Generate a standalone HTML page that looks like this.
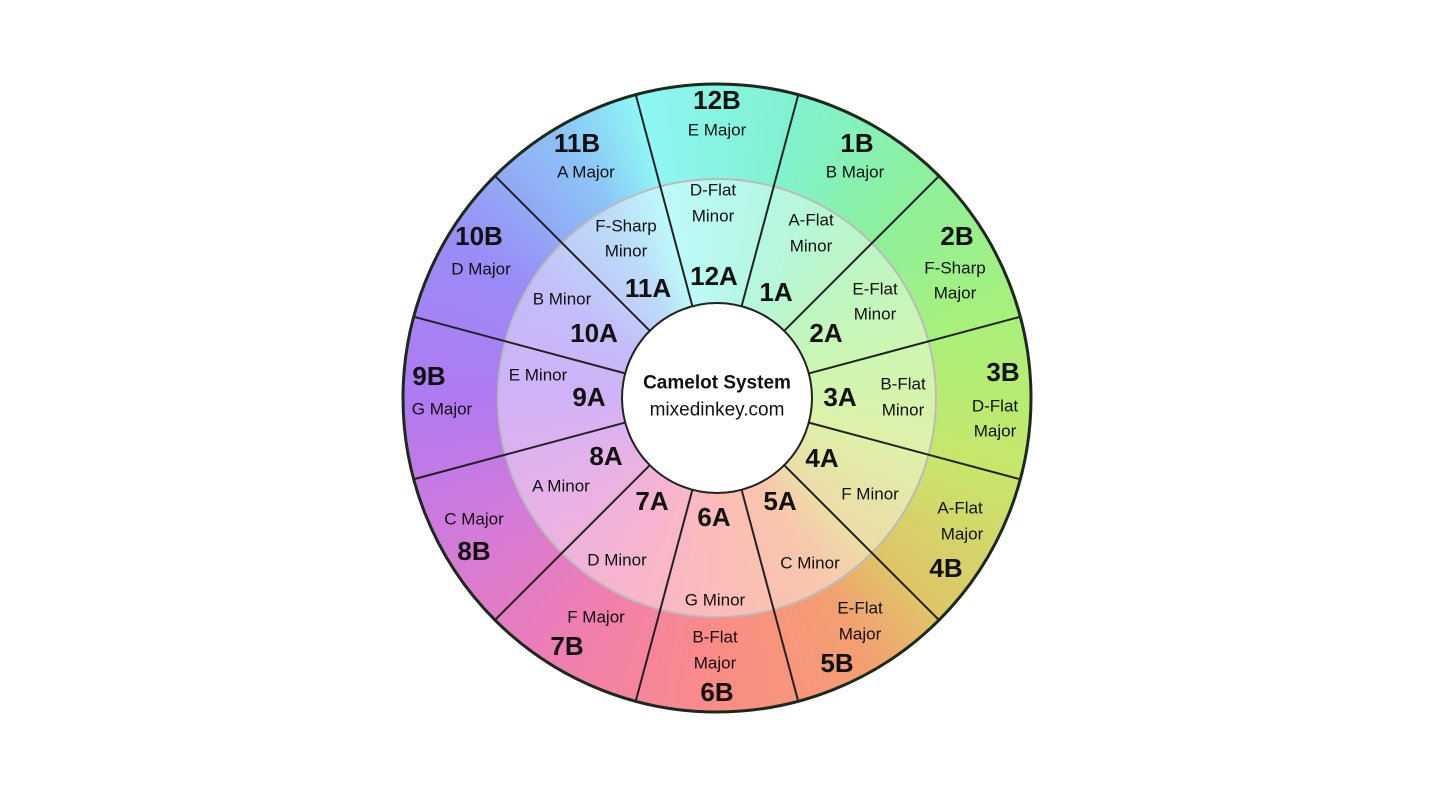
<!DOCTYPE html>
<html><head><meta charset="utf-8"><style>
html,body{margin:0;padding:0;background:#fff;width:1440px;height:810px;overflow:hidden}
#wheel{position:absolute;left:403px;top:84px;width:628px;height:628px;border-radius:50%;
background:conic-gradient(from -15deg,#8ef6f4 0deg,#80f2cf 30deg,#8df09a 60deg,#a9f07a 90deg,#c8e66a 120deg,#e0c468 150deg,#f3a070 165deg,#fb8c86 195deg,#f07eb0 225deg,#d47ad8 255deg,#b07af2 285deg,#9a8cf6 315deg,#8cc4f6 345deg,#8ef6f4 360deg)}
svg{position:absolute;left:0;top:0}
text{font-family:"Liberation Sans",sans-serif;text-anchor:middle;dominant-baseline:central;fill:#111}
.n{font-size:26px;font-weight:bold}
.t{font-size:17px}
</style></head><body>
<div id="wheel"></div>
<svg width="1440" height="810" viewBox="0 0 1440 810">
<circle cx="717" cy="398" r="219" fill="rgba(255,255,255,0.42)" stroke="#bbb" stroke-width="2"/>
<g stroke="#222" stroke-width="2">
<line x1="798.3" y1="94.7" x2="741.6" y2="306.2" transform="rotate(0 717 398)"/>
<line x1="798.3" y1="94.7" x2="741.6" y2="306.2" transform="rotate(30 717 398)"/>
<line x1="798.3" y1="94.7" x2="741.6" y2="306.2" transform="rotate(60 717 398)"/>
<line x1="798.3" y1="94.7" x2="741.6" y2="306.2" transform="rotate(90 717 398)"/>
<line x1="798.3" y1="94.7" x2="741.6" y2="306.2" transform="rotate(120 717 398)"/>
<line x1="798.3" y1="94.7" x2="741.6" y2="306.2" transform="rotate(150 717 398)"/>
<line x1="798.3" y1="94.7" x2="741.6" y2="306.2" transform="rotate(180 717 398)"/>
<line x1="798.3" y1="94.7" x2="741.6" y2="306.2" transform="rotate(210 717 398)"/>
<line x1="798.3" y1="94.7" x2="741.6" y2="306.2" transform="rotate(240 717 398)"/>
<line x1="798.3" y1="94.7" x2="741.6" y2="306.2" transform="rotate(270 717 398)"/>
<line x1="798.3" y1="94.7" x2="741.6" y2="306.2" transform="rotate(300 717 398)"/>
<line x1="798.3" y1="94.7" x2="741.6" y2="306.2" transform="rotate(330 717 398)"/>
</g>
<circle cx="717" cy="398" r="314" fill="none" stroke="#1c2a1c" stroke-width="3"/>
<circle cx="717" cy="398" r="95" fill="#fff" stroke="#222" stroke-width="2"/>
<text x="717" y="383" style="font-size:19px;font-weight:bold">Camelot System</text>
<text x="717" y="410" style="font-size:19px">mixedinkey.com</text>

<text class="n" x="717" y="100">12B</text><text class="t" x="717" y="130">E Major</text>
<text class="n" x="857" y="143">1B</text><text class="t" x="855" y="172">B Major</text>
<text class="n" x="577" y="143">11B</text><text class="t" x="586" y="172">A Major</text>
<text class="n" x="957" y="236">2B</text><text class="t" x="955" y="268">F-Sharp</text><text class="t" x="955" y="293">Major</text>
<text class="n" x="479" y="236">10B</text><text class="t" x="481" y="269">D Major</text>
<text class="n" x="1003" y="372">3B</text><text class="t" x="995" y="406">D-Flat</text><text class="t" x="995" y="431">Major</text>
<text class="n" x="429" y="376">9B</text><text class="t" x="442" y="409">G Major</text>
<text class="n" x="946" y="568">4B</text><text class="t" x="960" y="508">A-Flat</text><text class="t" x="962" y="534">Major</text>
<text class="n" x="474" y="551">8B</text><text class="t" x="474" y="519">C Major</text>
<text class="n" x="837" y="663">5B</text><text class="t" x="860" y="608">E-Flat</text><text class="t" x="860" y="634">Major</text>
<text class="n" x="567" y="646">7B</text><text class="t" x="596" y="617">F Major</text>
<text class="n" x="717" y="692">6B</text><text class="t" x="715" y="637">B-Flat</text><text class="t" x="715" y="663">Major</text>

<text class="n" x="714" y="276">12A</text><text class="t" x="713" y="190">D-Flat</text><text class="t" x="713" y="216">Minor</text>
<text class="n" x="776" y="292">1A</text><text class="t" x="811" y="220">A-Flat</text><text class="t" x="811" y="246">Minor</text>
<text class="n" x="648" y="288">11A</text><text class="t" x="626" y="226">F-Sharp</text><text class="t" x="626" y="251">Minor</text>
<text class="n" x="826" y="333">2A</text><text class="t" x="875" y="289">E-Flat</text><text class="t" x="875" y="314">Minor</text>
<text class="n" x="594" y="333">10A</text><text class="t" x="562" y="299">B Minor</text>
<text class="n" x="840" y="397">3A</text><text class="t" x="903" y="384">B-Flat</text><text class="t" x="903" y="410">Minor</text>
<text class="n" x="589" y="397">9A</text><text class="t" x="538" y="375">E Minor</text>
<text class="n" x="822" y="458">4A</text><text class="t" x="870" y="494">F Minor</text>
<text class="n" x="606" y="456">8A</text><text class="t" x="561" y="486">A Minor</text>
<text class="n" x="780" y="501">5A</text><text class="t" x="810" y="563">C Minor</text>
<text class="n" x="652" y="501">7A</text><text class="t" x="617" y="560">D Minor</text>
<text class="n" x="714" y="517">6A</text><text class="t" x="715" y="600">G Minor</text>
</svg>
</body></html>
